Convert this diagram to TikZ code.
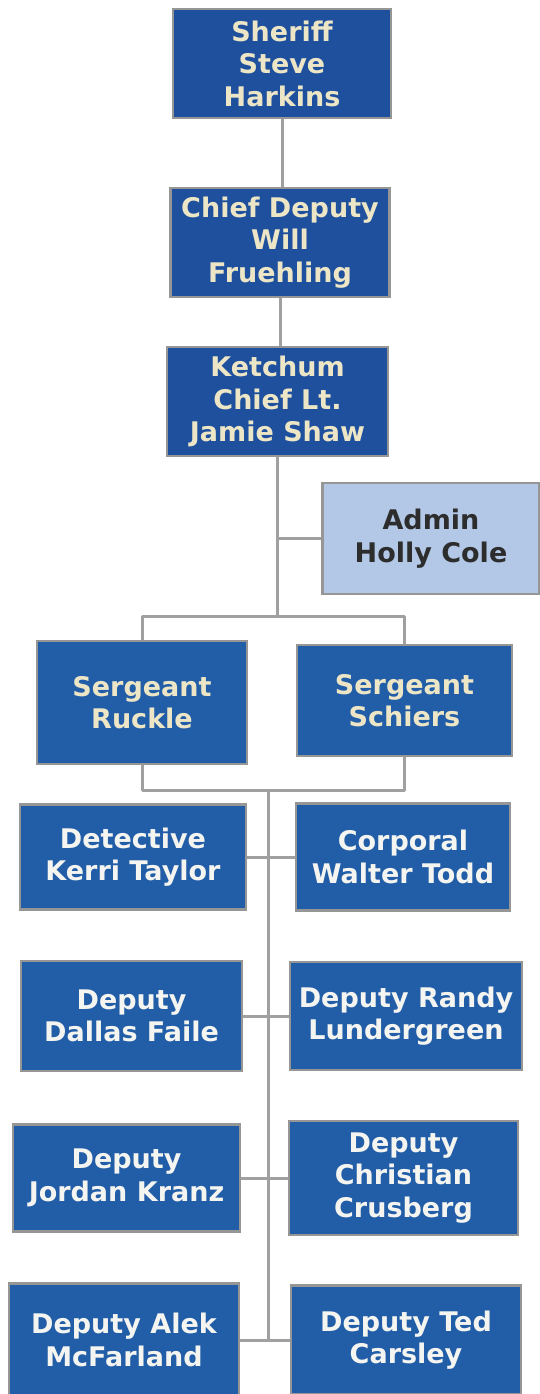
\documentclass[tikz,border=0pt]{standalone}
\usepackage{fontspec}
\setmainfont{DejaVu Sans}
\definecolor{topblue}{RGB}{30,80,158}
\definecolor{boxblue}{RGB}{34,94,168}
\definecolor{boxedge}{RGB}{150,150,150}
\definecolor{linegray}{RGB}{160,160,160}
\definecolor{cream}{RGB}{236,230,198}
\definecolor{paper}{RGB}{244,244,240}
\definecolor{adminblue}{RGB}{178,200,230}
\definecolor{admintext}{RGB}{45,45,45}
\begin{document}
\begin{tikzpicture}[x=1pt,y=-1pt,
    post/.style={draw=boxedge, line width=2.5pt, fill=boxblue, text=paper, align=center,
      inner sep=0pt, font=\bfseries\fontsize{27}{32.5}\selectfont},
    link/.style={draw=linegray, line width=3pt, line join=round}]
    \useasboundingbox (0,0) rectangle (539,1394);

    % Command chain at the top
    \node[post, fill=topblue, text=cream, minimum width=218pt, minimum height=109pt] (sheriff) at (282,63.5) {Sheriff\\Steve\\Harkins};
    \node[post, fill=topblue, text=cream, minimum width=219pt, minimum height=109pt] (chief) at (280,242.5) {Chief Deputy\\Will\\Fruehling};
    \node[post, fill=topblue, text=cream, minimum width=221pt, minimum height=109pt] (ketchum) at (277.5,401.5) {Ketchum\\Chief Lt.\\Jamie Shaw};
    \node[post, fill=adminblue, text=admintext, minimum width=217pt, minimum height=111pt] (admin) at (431,538.5) {Admin\\Holly Cole};

    % Sergeants
    \node[post, text=cream, minimum width=210pt, minimum height=123pt] (ruckle) at (142,702.5) {Sergeant\\Ruckle};
    \node[post, text=cream, minimum width=215pt, minimum height=111pt] (schiers) at (404.5,700.5) {Sergeant\\Schiers};

    % Pairs under the sergeants
    \node[post, minimum width=226pt, minimum height=105pt] (detective) at (133,857) {Detective\\Kerri Taylor};
    \node[post, minimum width=214pt, minimum height=107pt] (corporal) at (403,857) {Corporal\\Walter Todd};

    \node[post, minimum width=221pt, minimum height=110pt] (faile) at (131.5,1016) {Deputy\\Dallas Faile};
    \node[post, minimum width=232pt, minimum height=108pt] (lundergreen) at (406,1016) {Deputy Randy\\Lundergreen};

    \node[post, minimum width=227pt, minimum height=107pt] (kranz) at (126.5,1178) {Deputy\\Jordan Kranz};
    \node[post, minimum width=229pt, minimum height=114pt] (crusberg) at (403.5,1178) {Deputy\\Christian\\Crusberg};

    \node[post, minimum width=230pt, minimum height=113pt] (mcfarland) at (124,1340) {Deputy Alek\\McFarland};
    \node[post, minimum width=230pt, minimum height=109pt] (carsley) at (406,1340) {Deputy Ted\\Carsley};

    % Connectors
    \coordinate (topbus) at (276,616);
    \coordinate (lowbus) at (268,790);
    \draw[link] (sheriff.south) -- (sheriff.south |- chief.north);
    \draw[link] (chief.south) -- (chief.south |- ketchum.north);
    \draw[link] (ketchum.south) -- (ketchum.south |- topbus);
    \draw[link] (ketchum.south |- admin.west) -- (admin.west);
    \draw[link] (ruckle.north) |- (topbus) -| (schiers.north);
    \draw[link] (ruckle.south) |- (lowbus) -| (schiers.south);
    \draw[link] (lowbus) -- (lowbus |- mcfarland.east);
    \draw[link] (detective) -- (corporal);
    \draw[link] (faile) -- (lundergreen);
    \draw[link] (kranz) -- (crusberg);
    \draw[link] (mcfarland) -- (carsley);
\end{tikzpicture}
\end{document}
